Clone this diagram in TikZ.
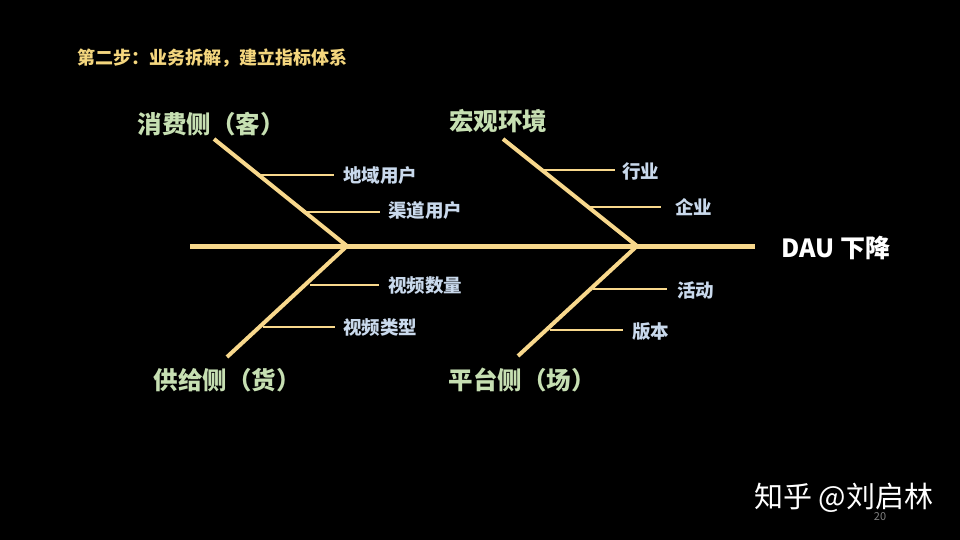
\documentclass[tikz,border=0pt]{standalone}
\usepackage{fontspec}
\setmainfont{Noto Sans CJK SC}
\begin{document}
\begin{tikzpicture}[x=1pt,y=-1pt,
  bone/.style={draw=boneclr,line width=4pt},
  spine/.style={draw=boneclr,line width=5pt},
  twig/.style={draw=boneclr,line width=2.6pt},
  cat/.style={text=catclr,font=\fontsize{24.5}{28}\selectfont\bfseries,inner sep=0pt},
  leaf/.style={text=leafclr,font=\fontsize{18.5}{22}\selectfont\bfseries,inner sep=0pt,anchor=west},
]
\definecolor{boneclr}{HTML}{F8D88C}
\definecolor{catclr}{HTML}{C6DFB2}
\definecolor{leafclr}{HTML}{C9D9EC}
\definecolor{titleclr}{HTML}{F4D67E}
\fill[black] (0,0) rectangle (960,540);
\useasboundingbox (0,0) rectangle (960,540);

\node[text=titleclr,font=\fontsize{18}{21}\selectfont\bfseries,anchor=west,inner sep=0pt] (title) at (77,58) {第二步：业务拆解，建立指标体系};

% spine
\coordinate (s0) at (190,246);
\coordinate (s1) at (755,246);
\coordinate (j1) at (347,246);
\coordinate (j2) at (637,246);
\draw[spine] (s0) -- (s1);
\node[text=white,font=\fontsize{25}{28}\selectfont\bfseries,anchor=west,inner sep=0pt] (dau) at (781,248) {DAU 下降};

% upper-left
\coordinate (ul) at (214,139);
\draw[bone] (ul) -- (j1);
\coordinate (ula) at (260,175); \coordinate (ulae) at (334,175);
\coordinate (ulb) at (307,212); \coordinate (ulbe) at (380,212);
\draw[twig] (ula) -- (ulae);
\draw[twig] (ulb) -- (ulbe);
\node[cat] (c1) at (211,124) {消费侧（客）};
\node[leaf] (l1) at (343,175) {地域用户};
\node[leaf] (l2) at (388,210) {渠道用户};

% lower-left
\coordinate (ll) at (227,357);
\draw[bone] (j1) -- (ll);
\coordinate (lla) at (310,285); \coordinate (llae) at (379,285);
\coordinate (llb) at (263,327); \coordinate (llbe) at (335,327);
\draw[twig] (lla) -- (llae);
\draw[twig] (llb) -- (llbe);
\node[cat] (c2) at (227,380) {供给侧（货）};
\node[leaf] (l3) at (388,286) {视频数量};
\node[leaf] (l4) at (343,328) {视频类型};

% upper-right
\coordinate (ur) at (503,139);
\draw[bone] (ur) -- (j2);
\coordinate (ura) at (543,170); \coordinate (urae) at (615,170);
\coordinate (urb) at (590,207); \coordinate (urbe) at (661,207);
\draw[twig] (ura) -- (urae);
\draw[twig] (urb) -- (urbe);
\node[cat] (c3) at (498,121) {宏观环境};
\node[leaf] (l5) at (622,171) {行业};
\node[leaf] (l6) at (675,207) {企业};

% lower-right
\coordinate (lr) at (518,356);
\draw[bone] (j2) -- (lr);
\coordinate (lra) at (593,289); \coordinate (lrae) at (667,289);
\coordinate (lrb) at (550,330); \coordinate (lrbe) at (623,330);
\draw[twig] (lra) -- (lrae);
\draw[twig] (lrb) -- (lrbe);
\node[cat] (c4) at (522,380) {平台侧（场）};
\node[leaf] (l7) at (677,290) {活动};
\node[leaf] (l8) at (632,332) {版本};

% watermark
\node[text=white,font=\fontsize{29}{33}\selectfont,anchor=west,inner sep=0pt] (wm) at (754,498) {知乎 @刘启林};
\node[text=gray,font=\fontsize{11}{12}\selectfont,inner sep=0pt] (pg) at (880,517) {20};
\end{tikzpicture}
\end{document}
